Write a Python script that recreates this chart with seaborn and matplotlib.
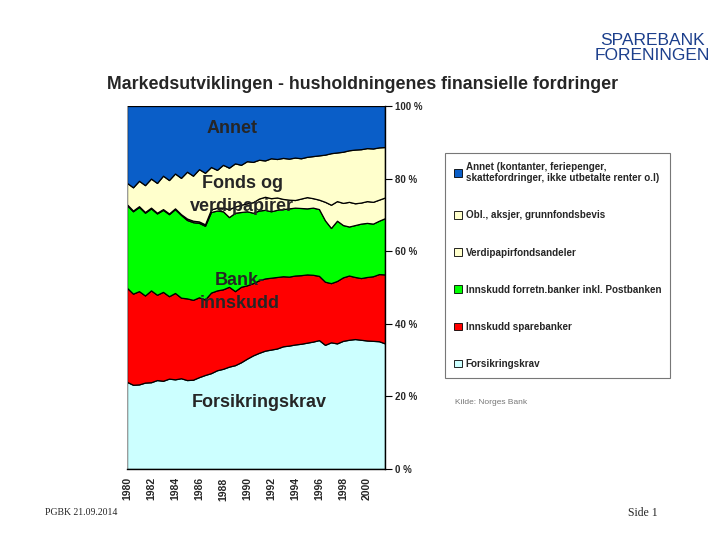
import numpy as np
import pandas as pd
import matplotlib
matplotlib.use("Agg")
import matplotlib.pyplot as plt
from matplotlib.patches import Patch
import seaborn as sns

# half-year observations 1980.0 - 2001.5, shares in percent
years = [1980 + 0.5 * i for i in range(44)]

forsikring = [24.0, 23.2, 23.3, 23.8, 23.9, 24.5, 24.3, 24.9, 24.7, 25.0,
              24.5, 24.6, 25.3, 25.9, 26.4, 27.2, 27.6, 28.2, 28.6, 29.4,
              30.4, 31.3, 32.0, 32.6, 32.9, 33.2, 33.8, 34.0, 34.3, 34.5,
              34.8, 35.1, 35.5, 34.2, 34.9, 34.6, 35.3, 35.6, 35.8, 35.6,
              35.4, 35.3, 35.2, 34.6]
sparebanker = [25.9, 25.1, 25.7, 24.0, 25.3, 23.5, 24.5, 22.7, 23.8, 22.2,
               22.5, 22.0, 22.0, 20.8, 22.2, 22.0, 21.9, 22.0, 20.4, 20.8,
               20.2, 19.9, 20.0, 19.9, 19.8, 19.7, 19.3, 19.0, 19.0, 18.9,
               18.8, 18.4, 17.7, 17.4, 16.3, 17.2, 17.5, 17.7, 17.1, 17.0,
               17.5, 17.8, 18.5, 19.0]
forretn = [22.8, 22.7, 23.2, 22.8, 22.6, 22.4, 22.6, 22.6, 23.1, 22.8,
           21.6, 21.4, 20.5, 20.3, 22.2, 22.0, 21.5, 19.2, 21.6, 20.6,
           20.4, 19.4, 19.2, 18.9, 18.3, 18.5, 18.5, 18.8, 18.7, 18.5,
           18.2, 18.5, 18.4, 16.9, 15.2, 16.6, 14.4, 13.5, 14.3, 15.0,
           14.9, 14.5, 14.7, 15.5]
verdipapirfond = [0.2, 0.2, 0.2, 0.2, 0.2, 0.2, 0.2, 0.2, 0.2, 0.2,
                  0.4, 0.4, 0.4, 0.4, 0.7, 0.8, 1.0, 2.2, 1.7, 2.0,
                  2.2, 2.9, 3.3, 3.6, 3.6, 3.4, 2.8, 2.4, 2.1, 2.6,
                  3.1, 2.6, 2.6, 5.1, 6.4, 5.4, 6.1, 6.8, 6.0, 5.8,
                  6.0, 6.0, 5.8, 5.7]
obligasjoner = [5.9, 6.4, 7.0, 7.4, 8.0, 8.2, 9.2, 9.2, 9.6, 10.0,
                12.9, 12.4, 14.4, 14.2, 11.7, 10.4, 11.8, 11.4, 11.9, 11.0,
                11.6, 11.1, 10.7, 10.0, 11.0, 10.6, 11.3, 11.3, 11.7, 11.1,
                11.1, 11.6, 12.2, 13.0, 14.2, 13.4, 14.1, 14.2, 14.8, 14.7,
                14.6, 14.7, 14.4, 13.9]
annet = [21.2, 22.4, 20.6, 21.8, 20.0, 21.2, 19.2, 20.4, 18.6, 19.8,
         18.1, 19.2, 17.4, 18.4, 16.8, 17.6, 16.2, 17.0, 15.8, 16.2,
         15.2, 15.4, 14.8, 15.0, 14.4, 14.6, 14.3, 14.5, 14.2, 14.4,
         14.0, 13.8, 13.6, 13.4, 13.0, 12.8, 12.6, 12.2, 12.0, 11.9,
         11.6, 11.7, 11.4, 11.3]

series_names = ["Forsikringskrav", "Innskudd sparebanker",
                "Innskudd forretn.banker inkl. Postbanken",
                "Verdipapirfondsandeler", "Obl., aksjer, grunnfondsbevis",
                "Annet (kontanter, feriepenger,\nskattefordringer, ikke utbetalte renter o.l)"]
colors = ["#CCFFFF", "#FF0000", "#00FF00", "#FFFFCC", "#FFFFCC", "#0A5EC8"]

df = pd.DataFrame({"year": years, "Forsikringskrav": forsikring,
                   "Sparebanker": sparebanker, "Forretn": forretn,
                   "Verdipapirfond": verdipapirfond, "Obl": obligasjoner,
                   "Annet": annet})

sns.set_style("white")
plt.rcParams["font.family"] = ["Liberation Sans", "DejaVu Sans"]

fig = plt.figure(figsize=(7.2, 5.4), dpi=100)
ax = fig.add_axes([0.1764, 0.1315, 0.3583, 0.6722])

ax.stackplot(df["year"], df["Forsikringskrav"], df["Sparebanker"], df["Forretn"],
             df["Verdipapirfond"], df["Obl"], df["Annet"],
             colors=colors, edgecolor="black", linewidth=0.9)

ax.set_xlim(1980, 2001.5)
ax.set_ylim(0, 100)
ax.yaxis.tick_right()
ax.set_yticks(range(0, 101, 20))
ax.set_yticklabels([f"{v} %" for v in range(0, 101, 20)], fontsize=7, fontweight="bold")
ax.set_xticks(range(1980, 2002))
ax.set_xticklabels([str(y) if y % 2 == 0 else "" for y in range(1980, 2002)],
                   rotation=90, fontsize=7.5, fontweight="bold")
ax.tick_params(axis="both", direction="out", length=4, width=0.8, color="black", pad=2)
ax.tick_params(axis="y", length=5)
ax.spines["top"].set_visible(False)
ax.spines["left"].set_color("#BBBBBB")
ax.spines["left"].set_linewidth(0.6)
for side in ["right", "bottom"]:
    ax.spines[side].set_color("black")
    ax.spines[side].set_linewidth(1.0)

# labels inside the areas
ax.text(1988.75, 93.7, "Annet", ha="center", va="center", fontsize=13, fontweight="bold")
ax.text(1989.6, 75.4, "Fonds og\nverdipapirer", ha="center", va="center",
        fontsize=13, fontweight="bold", linespacing=1.45)
ax.text(1989.4, 48.8, "Bank-\ninnskudd", ha="center", va="center",
        fontsize=13, fontweight="bold", linespacing=1.45)
ax.text(1991.0, 18.2, "Forsikringskrav", ha="center", va="center",
        fontsize=13, fontweight="bold")

fig.text(0.504, 0.843, "Markedsutviklingen - husholdningenes finansielle fordringer",
         ha="center", va="center", fontsize=12.8, fontweight="bold")

handles = [Patch(facecolor=c, edgecolor="black", linewidth=0.6) for c in colors]
leg = fig.legend(handles[::-1], series_names[::-1], loc="upper left",
                 bbox_to_anchor=(0.618, 0.717), frameon=True, fancybox=False,
                 prop={"weight": "bold", "size": 7.1},
                 handlelength=0.8, handleheight=0.8, handletextpad=0.4,
                 labelspacing=2.75, borderpad=0.9, borderaxespad=0)
leg.get_frame().set_edgecolor("#555555")
leg.get_frame().set_linewidth(0.8)

fig.text(0.632, 0.252, "Kilde: Norges Bank", fontsize=6, color="#777777")

# header logo text
fig.text(0.906, 0.925, "SPAREBANK", ha="center", va="center", fontsize=12.5,
         color="#1C3F8C")
fig.text(0.906, 0.897, "FORENINGEN", ha="center", va="center", fontsize=12.5,
         color="#1C3F8C")

fig.text(0.062, 0.046, "PGBK 21.09.2014", fontsize=7,
         family=["Liberation Serif", "DejaVu Serif"])
fig.text(0.872, 0.044, "Side 1", fontsize=8.5,
         family=["Liberation Serif", "DejaVu Serif"])

fig.savefig("out.png", dpi=100)
